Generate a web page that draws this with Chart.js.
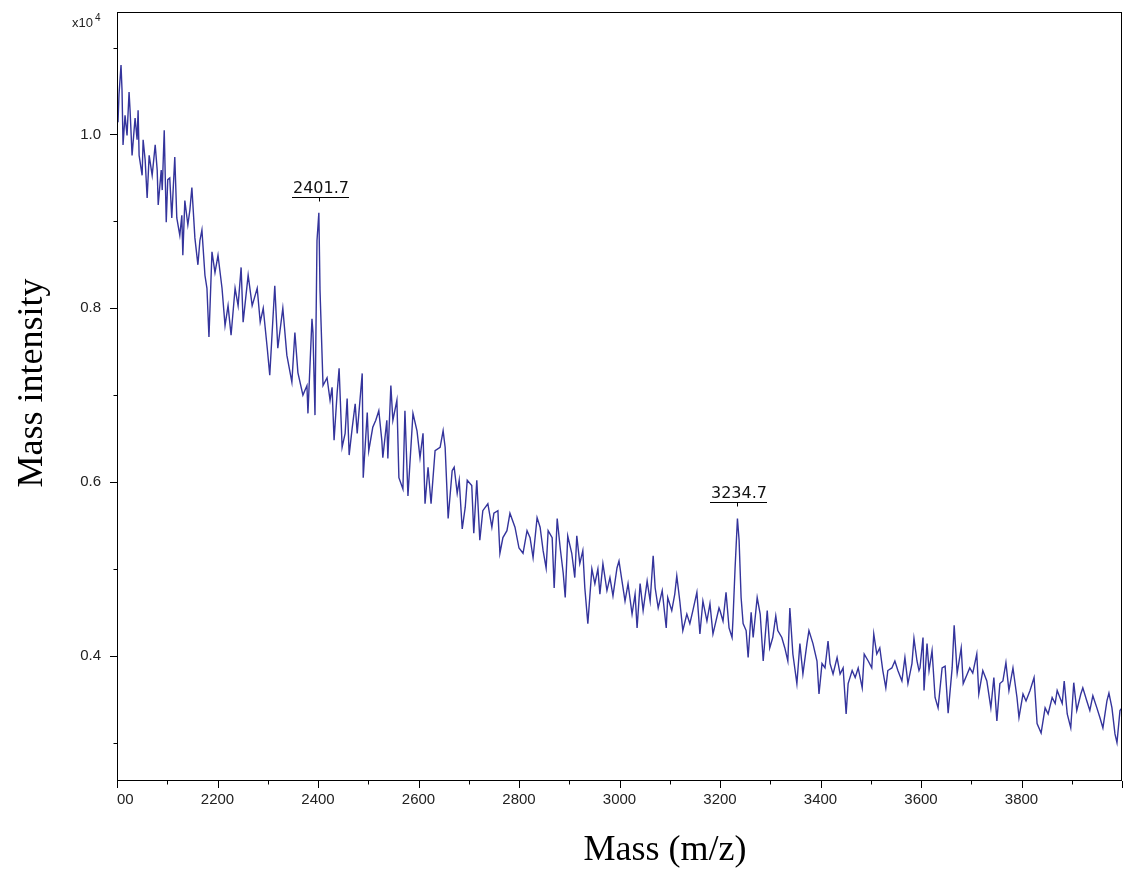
<!DOCTYPE html>
<html><head><meta charset="utf-8">
<script src="https://cdn.jsdelivr.net/npm/chart.js@4"></script>
<style>html,body{margin:0;padding:0;background:#fff}canvas{display:block}</style>
</head><body>
<canvas id="c" width="1125" height="874"></canvas>
<script>
// m/z values
const masses = [
2000,2002,2004,2008,2010,2012,2016,2020,2024,2026,
2030,2034,2036,2040,2042,2044,2050,2052,2056,2060,
2064,2070,2076,2080,2082,2088,2090,2094,2098,2101,
2105,2109,2115,2119,2125,2129,2131,2135,2141,2145,
2149,2155,2161,2165,2169,2175,2179,2183,2189,2195,
2201,2209,2215,2221,2227,2235,2241,2247,2251,2261,
2269,2279,2285,2291,2299,2304,2314,2320,2330,2338,
2348,2354,2360,2370,2378,2380,2388,2390,2394,2398,
2401.7,2404,2410,
2418,2424,2428,2432,2438,2442,2448,2454,2458,2462,
2468,2474,2478,2488,2490,2498,2501,2509,2515,2521,
2527,2529,2537,2539,2545,2549,2557,2561,2569,2573,
2579,2589,2597,2603,2609,2613,2619,2625,2633,2643,
2649,2653,2659,2667,2671,2677,2681,2687,2693,2697,
2706,2710,2716,2722,2728,2738,2746,2750,2758,2762,
2768,2776,2782,2792,2800,
2808,2816,2822,2828,2836,2842,2848,2854,2858,2866,
2870,2876,2882,2888,2892,2897,2905,2911,2915,2921,
2927,2931,2937,2945,2951,2957,2961,2967,2975,2981,
2987,2995,2999,3005,3011,3017,3025,3031,3035,3041,
3047,3055,3061,3067,3071,3077,3085,3093,3096,3104,
3110,3114,3120,3126,3134,3140,3146,3154,3160,3166,
3174,3180,3186,3198,
3200,3206,3212,3218,3224,3226,3230,3234.7,3238,3242,
3246,3252,3256,3262,3266,3274,3280,3286,3294,3299,
3305,3311,3315,3323,3329,3335,3339,3345,3353,3359,
3365,3373,3377,3385,3393,3397,3403,3409,3415,3419,
3425,3433,3439,3445,3451,3455,3463,3469,3475,3483,
3487,3495,3502,3506,3512,3518,3524,3530,3534,3542,
3548,3554,3562,3568,3574,3582,3586,3592,3596,
3598,3604,3606,3612,3616,3622,3628,3634,3642,3648,
3654,3662,3666,3672,3680,3684,3692,3697,3703,3711,
3715,3723,3731,3739,3745,3751,3757,3763,3769,3775,
3783,3791,3795,3803,3809,3817,3825,3831,3839,3847,
3853,3861,3867,3871,3881,3885,3891,3898,3904,3910,
3918,3922,3930,3936,3942,3950,3956,3962,3970,3974,
3980,3986,3990,3996,4000
];
// intensity, in units of 10^4
const intensities = [
1.028,1.014,1.046,1.080,1.051,0.988,1.022,0.999,1.049,1.028,
0.976,1.005,1.019,0.994,1.028,0.976,0.953,0.994,0.971,0.927,
0.976,0.953,0.988,0.959,0.919,0.959,0.936,1.005,0.899,0.948,
0.950,0.904,0.974,0.904,0.884,0.907,0.861,0.924,0.896,0.913,
0.939,0.881,0.850,0.878,0.890,0.838,0.823,0.767,0.865,0.841,
0.861,0.823,0.780,0.803,0.769,0.823,0.803,0.847,0.784,0.838,
0.803,0.823,0.784,0.800,0.754,0.723,0.826,0.754,0.800,0.746,
0.715,0.772,0.726,0.700,0.711,0.679,0.788,0.772,0.677,0.878,
0.910,0.821,0.711,
0.720,0.694,0.709,0.648,0.702,0.731,0.640,0.656,0.696,0.631,
0.662,0.690,0.656,0.725,0.605,0.680,0.636,0.663,0.671,0.682,
0.648,0.628,0.671,0.627,0.711,0.671,0.694,0.605,0.592,0.682,
0.584,0.679,0.659,0.628,0.656,0.575,0.617,0.575,0.636,0.640,
0.659,0.640,0.558,0.613,0.617,0.587,0.602,0.546,0.571,0.602,
0.596,0.541,0.602,0.533,0.567,0.575,0.548,0.564,0.567,0.518,
0.536,0.544,0.564,0.548,0.524,
0.518,0.544,0.536,0.513,0.559,0.548,0.521,0.501,0.544,0.536,
0.478,0.558,0.524,0.495,0.467,0.538,0.518,0.490,0.538,0.506,
0.521,0.478,0.437,0.500,0.483,0.500,0.471,0.506,0.475,0.490,
0.469,0.501,0.509,0.486,0.463,0.483,0.448,0.471,0.432,0.483,
0.452,0.486,0.463,0.515,0.478,0.455,0.475,0.432,0.467,0.452,
0.471,0.492,0.463,0.429,0.448,0.437,0.452,0.473,0.425,0.463,
0.440,0.460,0.425,0.455,
0.452,0.440,0.473,0.432,0.421,0.444,0.501,0.558,0.533,0.467,
0.437,0.429,0.398,0.450,0.421,0.467,0.448,0.394,0.452,0.409,
0.421,0.446,0.429,0.421,0.409,0.394,0.455,0.402,0.368,0.414,
0.379,0.414,0.429,0.414,0.394,0.356,0.391,0.386,0.417,0.391,
0.379,0.398,0.379,0.386,0.333,0.368,0.383,0.375,0.386,0.363,
0.402,0.394,0.386,0.425,0.402,0.409,0.383,0.363,0.383,0.386,
0.394,0.383,0.371,0.398,0.368,0.391,0.420,0.394,0.383,
0.386,0.421,0.360,0.414,0.383,0.406,0.352,0.340,0.386,0.388,
0.334,0.386,0.435,0.380,0.409,0.368,0.379,0.386,0.380,0.402,
0.356,0.383,0.371,0.340,0.375,0.325,0.368,0.371,0.392,0.360,
0.386,0.352,0.329,0.356,0.348,0.360,0.375,0.322,0.311,0.340,
0.333,0.352,0.345,0.360,0.345,0.371,0.333,0.317,0.369,0.337,
0.356,0.363,0.348,0.337,0.354,0.340,0.329,0.317,0.348,0.357,
0.340,0.310,0.300,0.337,0.340
];
const xTickValues = [2000,2100,2200,2300,2400,2500,2600,2700,2800,2900,3000,3100,3200,3300,3400,3500,3600,3700,3800,3900,4000];
const xTickLabels = ['\u2007\u200700','','2200','','2400','','2600','','2800','','3000','','3200','','3400','','3600','','3800','',''];
const yTickValues = [0.3,0.4,0.5,0.6,0.7,0.8,0.9,1.0,1.1];
const yTickLabels = ['','0.4','','0.6','','0.8','','1.0',''];
const peakMasses = [2401.7, 3234.7];
const peakLabels = ['2401.7', '3234.7'];

const SANS = '"Liberation Sans", Arial, sans-serif';
const SERIF = '"Liberation Serif", "Times New Roman", serif';

const decor = {
  id: 'decor',
  afterDraw(chart) {
    const {ctx, chartArea: a, scales: {x, y}} = chart;
    ctx.save();
    ctx.strokeStyle = '#000';
    ctx.lineWidth = 1;
    ctx.strokeRect(a.left + 0.5, a.top + 0.5, a.right - a.left - 1, a.bottom - a.top);
    // ticks
    ctx.beginPath();
    xTickValues.forEach(v => {
      const px = Math.round(x.getPixelForValue(v)) + 0.5;
      const len = (v % 200 === 0) ? 7 : 3.5;
      ctx.moveTo(px, a.bottom + 1); ctx.lineTo(px, a.bottom + 1 + len);
    });
    yTickValues.forEach(v => {
      const py = Math.round(y.getPixelForValue(v)) + 0.5;
      const len = (Math.round(v * 10) % 2 === 0) ? 7 : 3.5;
      ctx.moveTo(a.left, py); ctx.lineTo(a.left - len, py);
    });
    ctx.stroke();
    // peak annotations
    ctx.font = '16px "DejaVu Sans", sans-serif';
    ctx.fillStyle = '#111';
    ctx.textAlign = 'center';
    ctx.textBaseline = 'alphabetic';
    peakMasses.forEach((m, i) => {
      const val = intensities[masses.indexOf(m)];
      const px = Math.round(x.getPixelForValue(m));
      const py = Math.round(y.getPixelForValue(val));
      const ly = py - 16 + 0.5;
      ctx.beginPath();
      ctx.moveTo(px - 27, ly); ctx.lineTo(px + 30, ly);
      ctx.moveTo(px + 0.5, ly); ctx.lineTo(px + 0.5, ly + 4);
      ctx.stroke();
      ctx.fillText(peakLabels[i], px + 2, py - 20);
    });
    // exponent
    ctx.textAlign = 'left';
    ctx.font = '13px ' + SANS;
    ctx.fillStyle = '#222';
    ctx.fillText('x10', 72, 27);
    ctx.font = '10px ' + SANS;
    ctx.fillText('4', 95, 21);
    // axis titles
    ctx.fillStyle = '#000';
    ctx.font = '36px ' + SERIF;
    ctx.textAlign = 'center';
    ctx.fillText('Mass (m/z)', 665, 860);
    ctx.save();
    ctx.translate(42, 383);
    ctx.rotate(-Math.PI / 2);
    ctx.fillText('Mass intensity', 0, 0);
    ctx.restore();
    ctx.restore();
  }
};

new Chart(document.getElementById('c'), {
  type: 'line',
  data: {
    datasets: [{
      data: masses.map((m, i) => ({x: m, y: intensities[i]})),
      borderColor: '#34349c',
      borderWidth: 1.4,
      pointRadius: 0,
      tension: 0,
      fill: false
    }]
  },
  options: {
    responsive: false,
    animation: false,
    layout: {padding: {top: 12, right: 3, left: 0, bottom: 0}},
    plugins: {legend: {display: false}, tooltip: {enabled: false}},
    scales: {
      x: {
        type: 'linear', min: 2000, max: 4000,
        afterBuildTicks: s => { s.ticks = xTickValues.map(v => ({value: v})); },
        afterFit: s => { s.height = 94; s.paddingLeft = 0; s.paddingRight = 0; },
        grid: {display: false}, border: {display: false},
        ticks: {autoSkip: false, maxRotation: 0, padding: 3, color: '#222',
          font: {family: SANS, size: 15}, callback: (v, i) => xTickLabels[i]}
      },
      y: {
        type: 'linear', min: 0.257, max: 1.141,
        afterBuildTicks: s => { s.ticks = yTickValues.map(v => ({value: v})); },
        afterFit: s => { s.width = 117; s.paddingTop = 0; s.paddingBottom = 0; },
        grid: {display: false}, border: {display: false},
        ticks: {autoSkip: false, padding: 8, color: '#222',
          font: {family: SANS, size: 15}, callback: (v, i) => yTickLabels[i]}
      }
    }
  },
  plugins: [decor]
});
</script>
</body></html>
